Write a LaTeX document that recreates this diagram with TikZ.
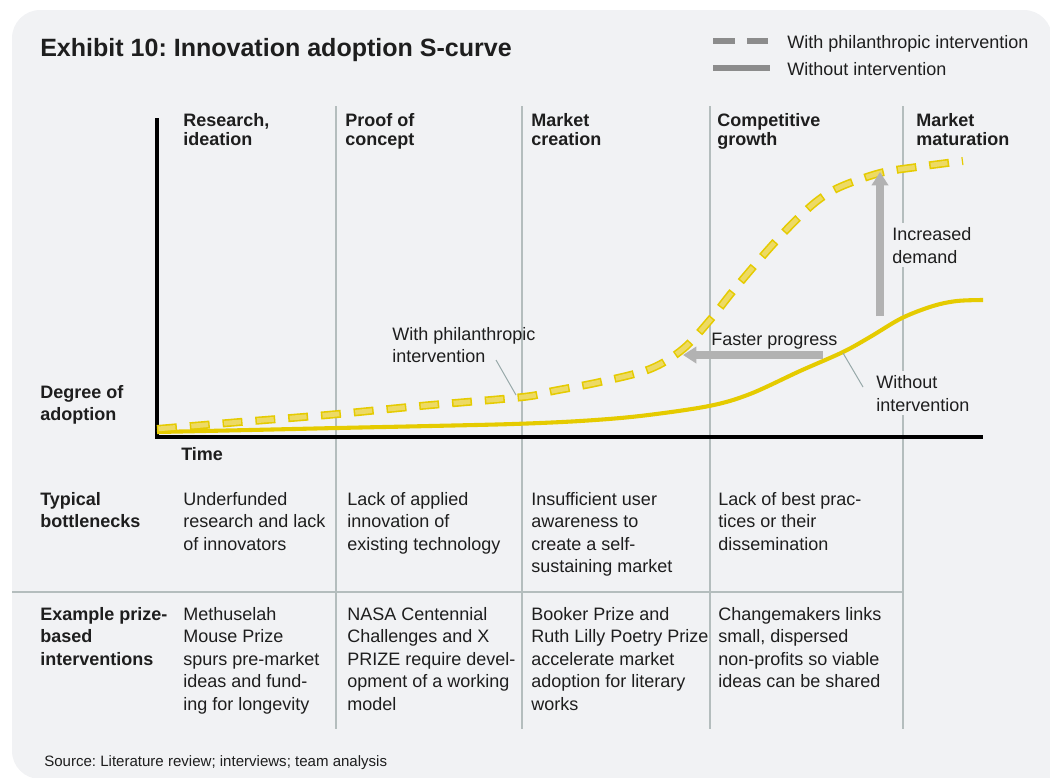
\documentclass[tikz,border=0pt]{standalone}
\usepackage{fontspec}
\setmainfont{Liberation Sans}
\usetikzlibrary{arrows.meta}
\frenchspacing
\definecolor{panel}{RGB}{241,242,244}
\definecolor{ink}{RGB}{30,30,30}
\definecolor{rule}{RGB}{180,189,189}
\definecolor{lead}{RGB}{150,168,168}
\definecolor{curve}{RGB}{229,203,0}
\definecolor{curvelt}{RGB}{237,218,100}
\definecolor{arrowgray}{RGB}{178,178,178}
\definecolor{legend}{RGB}{140,140,140}

\tikzset{
  body/.style={font=\fontsize{12.8}{16}\selectfont, text=ink, align=left, inner sep=0pt, anchor=north west},
  colhead/.style={body, font=\fontsize{12.8}{13.6}\selectfont\bfseries},
  rowhead/.style={body, font=\fontsize{12.8}{16}\selectfont\bfseries},
  cover/.style={fill=panel, inner ysep=3pt},
  gridline/.style={draw=rule, line width=0.9pt},
  leader/.style={draw=lead, line width=0.7pt},
  bigarrow/.style={draw=arrowgray, line width=5pt, -{Triangle[length=9.5pt,width=11.5pt]}},
}

\begin{document}
\begin{tikzpicture}[x=0.025cm, y=-0.025cm]
\useasboundingbox (0,0) rectangle (1050,777);

% Panel
\fill[panel, rounded corners=20pt] (12,10) rectangle (1052,779);
\fill[panel] (1000,700) rectangle (1052,779);

% Stage lines
\foreach \x in {336,522,710,903} {
    \draw[gridline] (\x,106) -- (\x,729);
}
\draw[gridline] (12,592) -- (903,592);

% Axes
\draw[black, line width=2.2pt] (157,118) -- (157,437) -- (983,437);

% Curves
\draw[curve, line width=2.9pt] plot[smooth, tension=0.55] coordinates {
    (157,432) (250,430) (337,428) (430,426) (513,424) (580,421) (640,416)
    (709,406) (750,394) (800,371) (843,352) (870,337) (902,318)
    (933,306) (957,301) (983,300)};
\draw[curve, line width=5.7pt, dash pattern=on 14.2pt off 9.2pt,
      postaction={draw=curvelt, line width=3.4pt, dash pattern=on 12pt off 11.4pt, dash phase=22.3pt}]
    plot[smooth, tension=0.55] coordinates {
    (157,429) (240,422) (327,415) (420,406) (523,397) (553,391) (600,382)
    (650,369) (683,349) (710,320) (733,291) (767,251) (793,223)
    (817,201) (840,187) (880,173) (917,167) (963,161)};

% Legend
\draw[legend, line width=3.6pt, dash pattern=on 15.6pt off 8.5pt] (713,41) -- (768,41);
\draw[legend, line width=3.6pt] (713,68) -- (770,68);
\node[body] (legwith) at (787,35) {With philanthropic intervention};
\node[body] (legwithout) at (787,62) {Without intervention};

% Arrows
\coordinate (demandfoot) at (880,316);
\coordinate (demandtip) at (880,172);
\coordinate (fasterfoot) at (823,355);
\coordinate (fastertip) at (683,355);
\draw[bigarrow] (demandfoot) -- (demandtip);
\draw[bigarrow] (fasterfoot) -- (fastertip);

% Title and headers
\node[body, font=\fontsize{17.8}{20}\selectfont\bfseries] (title) at (40,38) {Exhibit 10: Innovation adoption S-curve};
\node[colhead] (research) at (183,113) {Research,\\ideation};
\node[colhead] (proof) at (345,113) {Proof of\\concept};
\node[colhead] (creation) at (531,113) {Market\\creation};
\node[colhead] (growth) at (717,113) {Competitive\\growth};
\node[colhead] (maturation) at (916,113) {Market\\maturation};
\node[rowhead] (degree) at (40,385) {Degree of\\adoption};
\node[rowhead] (time) at (181,447) {Time};

% Curve labels
\node[body] (philab) at (392,327) {With philanthropic\\intervention};
\node[body] (fasterlab) at (711,333) {Faster progress};
\node[body, cover] (demandlab) at (892,223) {Increased\\demand};
\node[body, cover] (withoutlab) at (876,371) {Without\\intervention};
\coordinate (phifoot) at (496,360);
\coordinate (phicurve) at (516,395);
\coordinate (withoutfoot) at (863,387);
\coordinate (withoutcurve) at (843,353);
\draw[leader] (phifoot) -- (phicurve);
\draw[leader] (withoutfoot) -- (withoutcurve);

% Bottlenecks row
\node[rowhead] (bottleneck) at (40,492) {Typical\\bottlenecks};
\node[body] (bneckA) at (183,492) {Underfunded\\research and lack\\of innovators};
\node[body] (bneckB) at (347,492) {Lack of applied\\innovation of\\existing technology};
\node[body] (bneckC) at (531,492) {Insufficient user\\awareness to\\create a self-\\sustaining market};
\node[body] (bneckD) at (718,492) {Lack of best prac-\\tices or their\\dissemination};

% Prize row
\node[rowhead] (prize) at (40,607) {Example prize-\\based\\interventions};
\node[body] (prizeA) at (183,607) {Methuselah\\Mouse Prize\\spurs pre-market\\ideas and fund-\\ing for longevity};
\node[body] (prizeB) at (347,607) {NASA Centennial\\Challenges and X\\PRIZE require devel-\\opment of a working\\model};
\node[body] (prizeC) at (531,607) {Booker Prize and\\Ruth Lilly Poetry Prize\\accelerate market\\adoption for literary\\works};
\node[body] (prizeD) at (718,607) {Changemakers links\\small, dispersed\\non-profits so viable\\ideas can be shared};

% Source
\node[body, font=\fontsize{10.7}{13}\selectfont] (source) at (44,755) {Source: Literature review; interviews; team analysis};
\end{tikzpicture}
\end{document}
